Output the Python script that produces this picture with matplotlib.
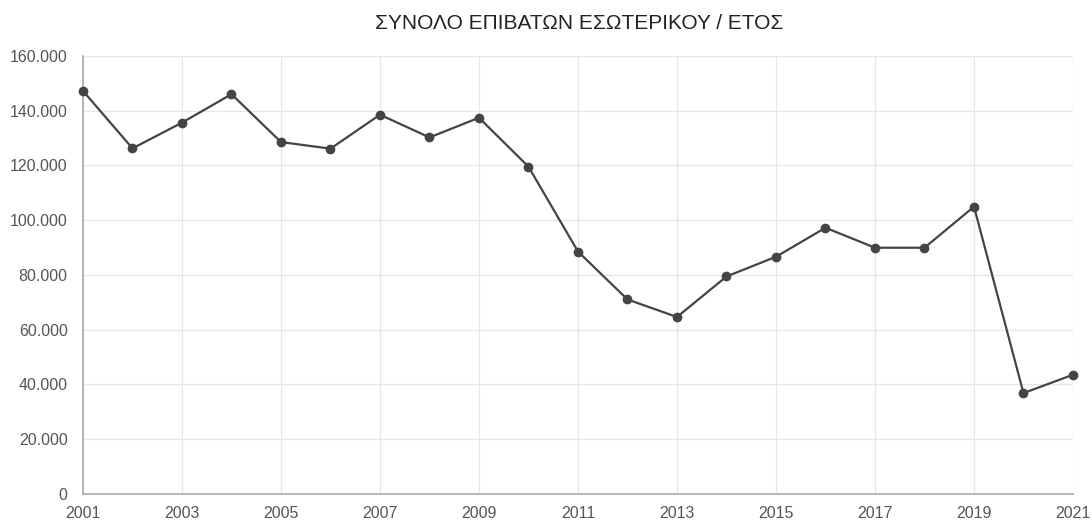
import matplotlib.pyplot as plt
from matplotlib.ticker import FuncFormatter, MultipleLocator

plt.rcParams['font.family'] = ['Liberation Sans', 'DejaVu Sans']

years = list(range(2001, 2022))
passengers = [147200, 126200, 135600, 146000, 128500, 126100, 138500, 130200,
              137400, 119500, 88500, 71000, 64600, 79400, 86600, 97200,
              89900, 89900, 104900, 36800, 43500]
title = "ΣΥΝΟΛΟ ΕΠΙΒΑΤΩΝ ΕΣΩΤΕΡΙΚΟΥ / ΕΤΟΣ"

fig = plt.figure(figsize=(10.92, 5.22), dpi=100)
ax = fig.add_axes([0.076, 0.054, 0.9066, 0.839])

ax.plot(years, passengers, color="#444444", linewidth=1.6, marker="o",
        markersize=6, zorder=3, clip_on=False)

ax.set_xlim(2001, 2021)
ax.set_ylim(0, 160000)
ax.set_xticks(years[::2])
ax.yaxis.set_major_locator(MultipleLocator(20000))
ax.yaxis.set_major_formatter(FuncFormatter(lambda v, p: f"{int(v):,}".replace(",", ".")))

# light grid, gray axis lines on left/bottom only
ax.grid(True, color="#e6e6e6", linewidth=0.9)
ax.set_axisbelow(True)
for side in ["top", "right"]:
    ax.spines[side].set_visible(False)
for side in ["left", "bottom"]:
    ax.spines[side].set_color("#aaaaaa")
    ax.spines[side].set_linewidth(1.2)
ax.tick_params(length=0, labelsize=11.5, colors="#555555")
ax.tick_params(axis="y", pad=11)
ax.tick_params(axis="x", pad=9)

fig.text(0.53, 0.955, title, ha="center", va="center", fontsize=15, color="#222222")

fig.savefig("out.png", dpi=100)
